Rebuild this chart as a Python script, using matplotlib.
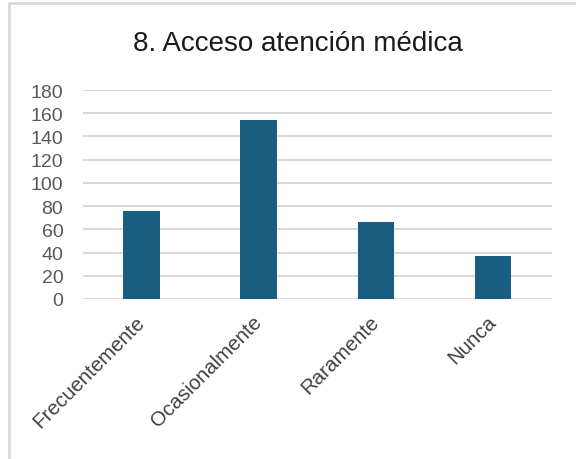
import matplotlib.pyplot as plt
from matplotlib.patches import Rectangle

categories = ["Frecuentemente", "Ocasionalmente", "Raramente", "Nunca"]
values = [76, 154, 66, 37]
yticks = list(range(0, 181, 20))

plt.rcParams['font.family'] = ['Liberation Sans', 'DejaVu Sans']

fig = plt.figure(figsize=(5.76, 4.6), dpi=100)
ax = fig.add_axes([0.1436, 0.348, 0.8144, 0.454])

ax.bar(range(len(categories)), values, width=0.31, color="#175e80", zorder=3)
ax.set_xlim(-0.5, len(categories) - 0.5)
ax.set_ylim(0, 180)
ax.set_yticks(yticks)
ax.grid(axis="y", color="#d9d9d9", linewidth=1.5, zorder=0)
for s in ax.spines.values():
    s.set_visible(False)
ax.axhline(0, color="#d9d9d9", linewidth=1.5, zorder=1)
ax.tick_params(axis="both", length=0, labelsize=14, labelcolor="#595959")
ax.tick_params(axis="y", pad=14)
ax.tick_params(axis="x", pad=14)
ax.set_xticks(range(len(categories)))
ax.set_xticklabels(categories, rotation=45, ha="right", va="center",
                   rotation_mode="anchor", fontsize=14.8, color="#404040")

fig.text(0.5165, 0.905, "8. Acceso atención médica", ha="center", va="center",
         fontsize=20, color="#1a1a1a")

# outer chart frame
fig.patches.append(Rectangle((0.016, -0.01), 1.0, 1.001, transform=fig.transFigure,
                             fill=False, edgecolor="#d9d9d9", linewidth=2))

fig.savefig("out.png", dpi=100)
